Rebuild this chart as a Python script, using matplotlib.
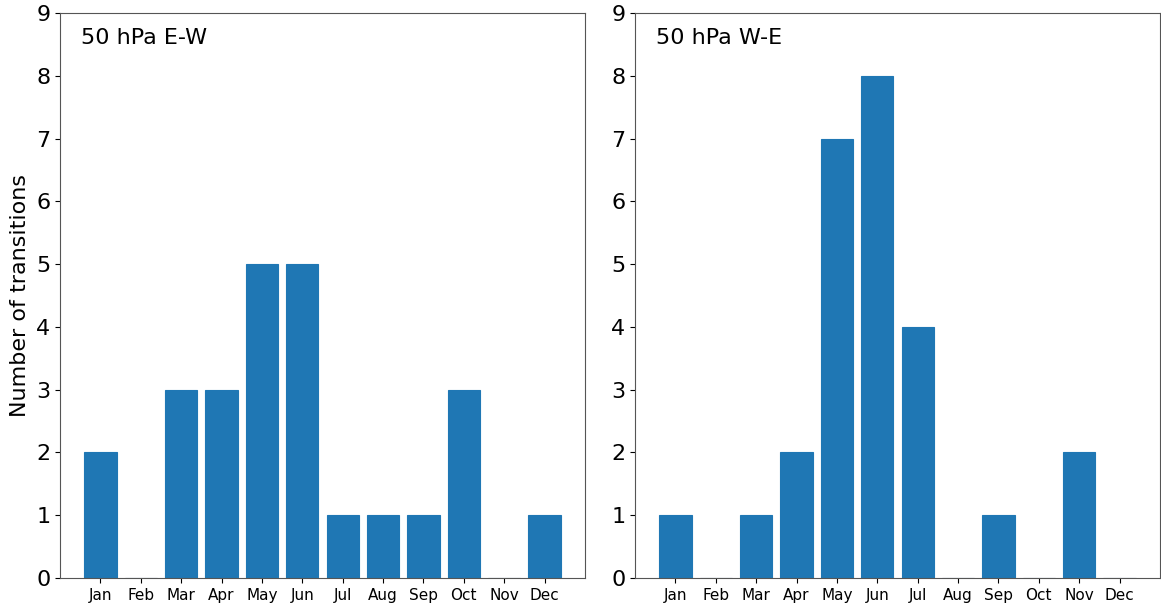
import matplotlib
matplotlib.use('Agg')
import matplotlib.pyplot as plt
import numpy as np

months = ['Jan', 'Feb', 'Mar', 'Apr', 'May', 'Jun', 'Jul', 'Aug', 'Sep', 'Oct', 'Nov', 'Dec']
ew_counts = [2, 0, 3, 3, 5, 5, 1, 1, 1, 3, 0, 1]
we_counts = [1, 0, 1, 2, 7, 8, 4, 0, 1, 0, 2, 0]
titles = ['50 hPa E-W', '50 hPa W-E']

fig = plt.figure(figsize=(11.61, 6.05), dpi=100)
ax1 = fig.add_axes([60/1161, 27/605, 525/1161, 565/605])
ax2 = fig.add_axes([635/1161, 27/605, 525/1161, 565/605])

x = np.arange(1, 13)
for ax, counts, title in zip([ax1, ax2], [ew_counts, we_counts], titles):
    # zero-height bars show up as a thin dark line in the original
    edges = ['#17405f' if c == 0 else '#1f77b4' for c in counts]
    ax.bar(x, counts, width=0.8, color='#1f77b4', edgecolor=edges, linewidth=0.8)
    ax.set_xlim(0, 13)
    ax.set_ylim(0, 9)
    ax.set_xticks(x)
    ax.set_xticklabels(months, fontsize=11)
    ax.set_yticks(range(10))
    ax.tick_params(axis='y', labelsize=16)
    ax.text(0.04, 0.955, title, transform=ax.transAxes, fontsize=16, va='center', ha='left')
    for s in ax.spines.values():
        s.set_color('#555555')

ax1.set_ylabel('Number of transitions', fontsize=16)

plt.savefig('out.png', dpi=100)
